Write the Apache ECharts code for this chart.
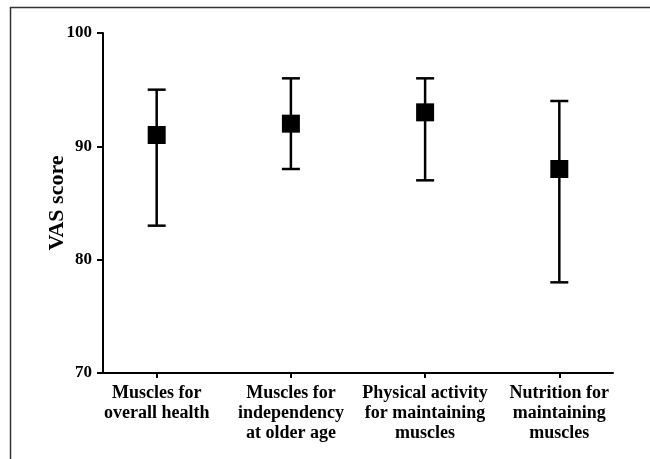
<!DOCTYPE html>
<html>
<head>
<meta charset="utf-8">
<script src="https://cdn.jsdelivr.net/npm/echarts@6/dist/echarts.min.js"></script>
<style>
  html, body { margin: 0; padding: 0; background: #fff; }
  #chart { width: 650px; height: 459px; }
</style>
</head>
<body>
<div id="chart"></div>
<script>
// Mean VAS score with range for each statement
const categories = [
  'Muscles for\noverall health',
  'Muscles for\nindependency\nat older age',
  'Physical activity\nfor maintaining\nmuscles',
  'Nutrition for\nmaintaining\nmuscles'
];
const positions = [1, 2, 3, 4];
const means = [91, 92, 93, 88];
const lower = [83, 88, 87, 78];
const upper = [95, 96, 96, 94];
const yTicks = [70, 80, 90, 100];

const FONT = '"Liberation Serif", "Times New Roman", serif';

const errorData = positions.map((p, i) => [p, lower[i], upper[i]]);
const meanData = positions.map((p, i) => [p, means[i]]);

const chart = echarts.init(document.getElementById('chart'), null, { renderer: 'canvas' });

chart.setOption({
  animation: false,
  backgroundColor: '#ffffff',
  grid: { left: 103, right: 37, top: 33, bottom: 86, containLabel: false },
  xAxis: {
    type: 'value',
    min: 0.6,
    max: 4.4,
    splitLine: { show: false },
    axisLine: { show: true, onZero: false, lineStyle: { color: '#000', width: 2 } },
    axisTick: {
      show: true, customValues: positions, length: 5, inside: false,
      lineStyle: { color: '#000', width: 2 }
    },
    axisLabel: {
      show: true,
      customValues: positions,
      margin: 10,
      fontFamily: FONT,
      fontWeight: 'bold',
      fontSize: 18,
      lineHeight: 20,
      color: '#000',
      align: 'center',
      verticalAlign: 'top',
      formatter: (v) => categories[Math.round(v) - 1]
    }
  },
  yAxis: {
    type: 'value',
    min: 70,
    max: 100,
    interval: 10,
    name: 'VAS score',
    nameLocation: 'middle',
    nameGap: 35,
    nameMoveOverlap: false,
    nameRotate: 90,
    nameTextStyle: { fontFamily: FONT, fontWeight: 'bold', fontSize: 22, color: '#000' },
    splitLine: { show: false },
    axisLine: { show: true, lineStyle: { color: '#000', width: 2 } },
    axisTick: { show: true, length: 6, lineStyle: { color: '#000', width: 2 } },
    axisLabel: {
      margin: 11,
      fontFamily: FONT,
      fontWeight: 'bold',
      fontSize: 17,
      color: '#000',
      formatter: (v) => (yTicks.includes(v) ? String(v) : '')
    }
  },
  series: [
    {
      type: 'custom',
      name: 'range',
      data: errorData,
      z: 2,
      renderItem: function (params, api) {
        const x = api.value(0);
        const lo = api.coord([x, api.value(1)]);
        const hi = api.coord([x, api.value(2)]);
        const half = 9;
        const style = { stroke: '#000', lineWidth: 2.5, fill: null };
        return {
          type: 'group',
          children: [
            { type: 'line', shape: { x1: lo[0], y1: lo[1], x2: hi[0], y2: hi[1] }, style },
            { type: 'line', shape: { x1: hi[0] - half, y1: hi[1], x2: hi[0] + half, y2: hi[1] }, style },
            { type: 'line', shape: { x1: lo[0] - half, y1: lo[1], x2: lo[0] + half, y2: lo[1] }, style }
          ]
        };
      }
    },
    {
      type: 'scatter',
      name: 'mean',
      data: meanData,
      symbol: 'rect',
      symbolSize: 18,
      z: 3,
      itemStyle: { color: '#000', opacity: 1 }
    }
  ],
  graphic: [
    {
      type: 'polyline',
      silent: true,
      shape: { points: [[10.5, 459], [10.5, 7.5], [650, 7.5]] },
      style: { stroke: '#333', lineWidth: 1.5, fill: null }
    }
  ]
});
</script>
</body>
</html>
